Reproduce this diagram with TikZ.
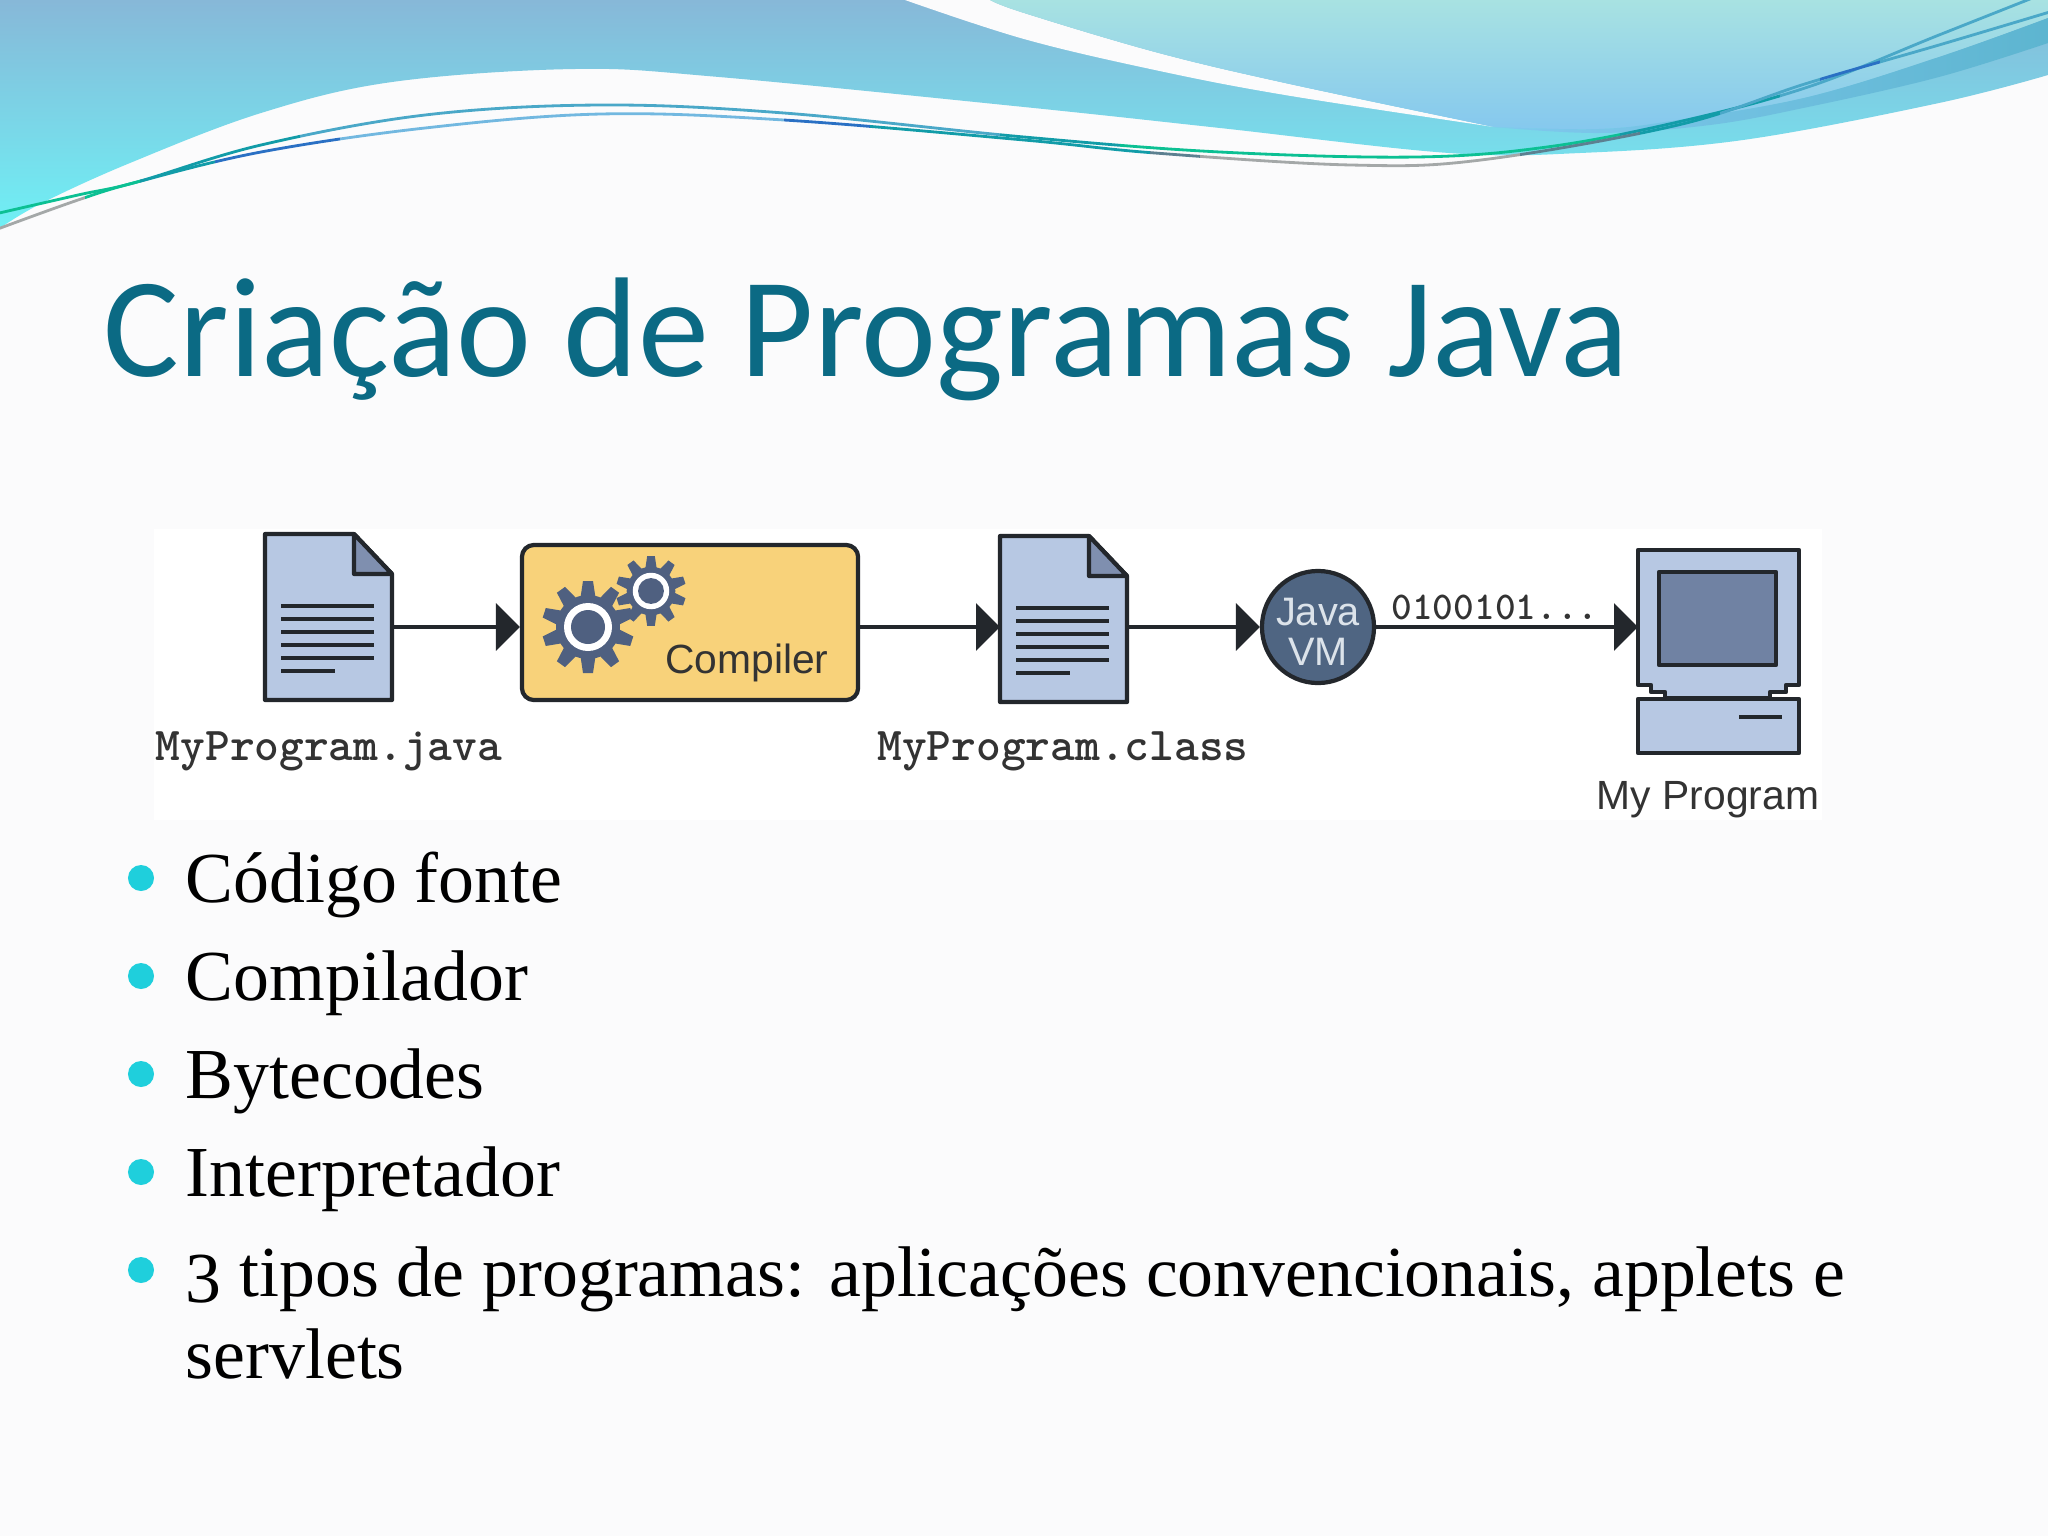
\documentclass[tikz,border=0pt]{standalone}
\usepackage{fontspec}
\setmainfont{Liberation Serif}
\newfontfamily\titlefont{Carlito}
\newfontfamily\labelfont{Liberation Sans}
\usepackage{tikz}
\usetikzlibrary{arrows}
\definecolor{pagebg}{HTML}{FBFBFC}
\definecolor{titleblue}{HTML}{0B6A84}
\definecolor{dotcyan}{HTML}{1FCFDC}
\definecolor{inkdark}{HTML}{23272C}
\definecolor{filegray}{HTML}{B7C8E3}
\definecolor{foldgray}{HTML}{7F8FAF}
\definecolor{gearblue}{HTML}{4F6080}
\definecolor{boxyellow}{HTML}{F8D27A}
\definecolor{vmblue}{HTML}{4F6582}
\definecolor{vmtext}{HTML}{DCE3EA}
\definecolor{screenblue}{HTML}{7082A3}
\definecolor{wgreen}{HTML}{0CC093}
\definecolor{wteal}{HTML}{129CA8}
\definecolor{wsky}{HTML}{4AA8C8}
\definecolor{wpale}{HTML}{72B8E0}
\definecolor{wdeep}{HTML}{2A70C4}
\definecolor{wslate}{HTML}{5C8090}
\definecolor{wgrey}{HTML}{A4A8A8}
\definecolor{seatop}{HTML}{87B8D8}
\definecolor{seabot}{HTML}{6FF0F5}
\definecolor{foamtop}{HTML}{A8E2E2}
\definecolor{foambot}{HTML}{85C8EE}
\definecolor{bandleft}{HTML}{80C9EE}
\definecolor{bandmid}{HTML}{42B2E0}
\definecolor{bandright}{HTML}{5DB5D0}
\tikzset{
  flow/.style={draw=inkdark,line width=1.4pt,-triangle 90},
  outline/.style={draw=inkdark,line width=1.2pt,line join=round},
  hidden/.style={inner sep=0pt,outer sep=0pt},
  tag/.style={anchor=base,inner sep=0pt,text=black!80},
  item/.style={anchor=base west,inner sep=0pt,font=\fontsize{20.4}{25}\selectfont},
  dot/.style={circle,fill=dotcyan,inner sep=0pt,minimum size=0.26cm},
  pics/docfile/.style={code={
    \draw[outline,fill=filegray] (0,0) -- (89,0) -- (127,40) -- (127,166) -- (0,166) -- cycle;
    \draw[outline,fill=foldgray] (89,0) -- (127,40) -- (89,40) -- cycle;
    \foreach \rowy in {72,85,98,111,124}
      \draw[inkdark,line width=1.3pt] (16,\rowy) -- (109,\rowy);
    \draw[inkdark,line width=1.3pt] (16,137) -- (70,137);
  }},
  pics/gear/.style={code={
    \foreach \toothangle in {0,36,...,324}
      \fill[gearblue,rotate=\toothangle] (-5,-46) -- (5,-46) -- (8,-26) -- (-8,-26) -- cycle;
    \fill[gearblue] (0,0) circle (32);
    \fill[white] (0,0) circle (24);
    \fill[gearblue] (0,0) circle (17);
  }}
}
\newcommand{\upperwave}{plot[smooth,tension=.6] coordinates {(-5,214) (78,195) (137,182) (261,145) (425,115) (601,105) (784,113) (1024,137) (1220,152) (1416,157) (1547,147) (1678,122) (1808,87) (1939,35) (2040,-5)}}
\newcommand{\lowerwave}{plot[smooth,tension=.6] coordinates {(-5,230) (78,200) (137,182) (261,152) (425,128) (601,114) (784,120) (1024,140) (1155,153) (1351,165) (1481,160) (1678,125) (1808,83) (1939,45) (2053,11)}}
\begin{document}
\begin{tikzpicture}[x=0.01cm,y=-0.01cm]
\useasboundingbox (0,0) rectangle (2048,1536);
\fill[pagebg] (0,0) rectangle (2048,1536);
% top waves
\shade[top color=seatop,bottom color=seabot] (0,228) -- plot[smooth,tension=.6] coordinates {(0,228) (42,203) (130,163) (261,113) (392,82) (575,69) (719,77) (1024,107) (1220,128) (1449,153) (1580,153) (1743,140) (1939,103) (2048,75)} -- (2048,0) -- (0,0) -- cycle;
\fill[pagebg] plot[smooth,tension=.6] coordinates {(905,0) (1024,39) (1155,70) (1285,95) (1494,127)} -- plot[smooth,tension=.6] coordinates {(1494,127) (1285,83) (1155,52) (1024,13) (990,0)} -- cycle;
\shade[top color=foamtop,bottom color=foambot] plot[smooth,tension=.6] coordinates {(990,0) (1024,13) (1155,52) (1285,83) (1494,127)} -- plot[smooth,tension=.6] coordinates {(1494,127) (1599,129) (1678,120) (1808,97) (1939,57) (2048,18)} -- (2048,0) -- cycle;
\shade[left color=bandleft,middle color=bandmid,right color=bandright] plot[smooth,tension=.6] coordinates {(1494,127) (1599,129) (1678,120) (1808,97) (1939,57) (2048,18)} -- plot[smooth,tension=.6] coordinates {(2048,43) (1939,77) (1808,107) (1710,125) (1599,133) (1494,127)} -- cycle;
\foreach \xa/\xb/\col in {-10/140/wgreen,140/300/wteal,300/1000/wsky,1000/1120/wteal,1120/1620/wgreen,1620/1780/wteal,1780/2060/wsky}
{
  \begin{scope}
  \clip (\xa,-10) rectangle (\xb,260);
  \draw[\col,line width=0.8pt] \upperwave;
  \end{scope}
}
\foreach \xa/\xb/\col in {-10/85/wgrey,85/140/wgreen,140/215/wteal,215/340/wdeep,340/784/wpale,784/870/wdeep,870/1150/wteal,1150/1200/wslate,1200/1520/wgrey,1520/1640/wslate,1640/1720/wteal,1720/1820/wsky,1820/1880/wdeep,1880/2060/wsky}
{
  \begin{scope}
  \clip (\xa,-10) rectangle (\xb,260);
  \draw[\col,line width=0.8pt] \lowerwave;
  \end{scope}
}
% title
\node[anchor=base west,inner sep=0pt,text=titleblue,font=\titlefont\fontsize{40.4}{48}\selectfont] (title) at (103,376) {Criação de Programas Java};
% picture
\fill[white] (154,529) rectangle (1822,820);
\pic at (265,534) {docfile};
\pic at (1000,536) {docfile};
\node[hidden,minimum width=1.27cm,minimum height=1.66cm] (javafile) at (328.5,617) {};
\node[hidden,minimum width=1.27cm,minimum height=1.66cm] (classfile) at (1063.5,619) {};
\node[outline,fill=boxyellow,rounded corners=0.12cm,inner sep=0pt,minimum width=3.36cm,minimum height=1.55cm] (compiler) at (690,622.5) {};
\pic at (588,627) {gear};
\pic[scale=.76] at (651,591) {gear};
\node[tag,font=\labelfont\fontsize{11.6}{14}\selectfont] (complabel) at (747,673) {Compiler};
\node[circle,outline,fill=vmblue,inner sep=0pt,minimum size=1.12cm] (vm) at (1318,627) {};
\node[inner sep=0pt,text=vmtext,align=center,font=\labelfont\fontsize{11.3}{11.4}\selectfont] (vmlabel) at (1318,632) {Java\\VM};
% computer
\draw[outline,fill=filegray] (1638,550) -- (1799,550) -- (1799,685) -- (1786,685) -- (1786,692) -- (1770,692) -- (1770,698) -- (1665,698) -- (1665,692) -- (1651,692) -- (1651,685) -- (1638,685) -- cycle;
\draw[outline,fill=screenblue] (1659,572) rectangle (1776,665);
\draw[outline,fill=filegray] (1638,699) rectangle (1799,753);
\draw[inkdark,line width=1.4pt] (1739,717) -- (1782,717);
\node[hidden,minimum width=1.61cm,minimum height=1.35cm] (monitor) at (1718.5,617.5) {};
\draw[flow] (javafile.east |- vm) -- (compiler.west |- vm);
\draw[flow] (compiler.east |- vm) -- (classfile.west |- vm);
\draw[flow] (classfile.east |- vm) -- (vm);
\draw[flow] (vm) -- (monitor.west |- vm);
\node[tag,font=\ttfamily\bfseries\fontsize{13.4}{15}\selectfont] (javalabel) at (329,760) {MyProgram.java};
\node[tag,font=\ttfamily\bfseries\fontsize{13.4}{15}\selectfont] (classlabel) at (1063,760) {MyProgram.class};
\node[tag,font=\ttfamily\bfseries\fontsize{11.2}{13}\selectfont] (bitslabel) at (1495,619) {0100101...};
\node[tag,font=\labelfont\fontsize{11.6}{14}\selectfont] (pclabel) at (1708,809) {My Program};
% bullets
\foreach \dotnum/\doty/\texty/\itemtext in {1/878/902/{Código fonte},2/976/1000/{Compilador},3/1074/1098/{Bytecodes},4/1172/1196/{Interpretador},5/1270/1296/{\raisebox{-0.2ex}{3} tipos de programas: aplicações convencionais, applets e}}
{
  \node[dot] (dot\dotnum) at (141,\doty) {};
  \node[item] (item\dotnum) at (185,\texty) {\itemtext};
}
\node[item] (itemrest) at (185,1378) {servlets};
\end{tikzpicture}
\end{document}
